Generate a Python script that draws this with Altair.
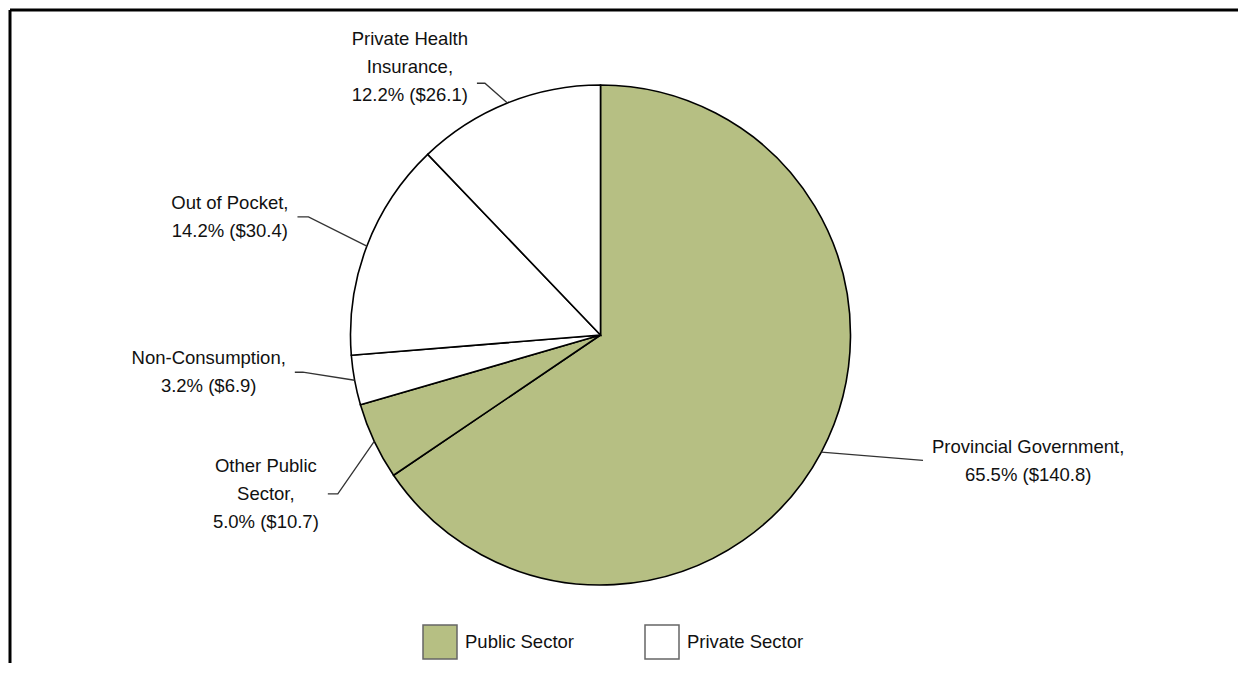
import math
import altair as alt
import pandas as pd

# ---------------- data ----------------
categories = ["Provincial Government", "Other Public Sector", "Non-Consumption",
              "Out of Pocket", "Private Health Insurance"]
sectors = ["Public Sector", "Public Sector", "Private Sector", "Private Sector", "Private Sector"]
percents = [65.5, 5.0, 3.2, 14.2, 12.2]
dollars = [140.8, 10.7, 6.9, 30.4, 26.1]
label_names = [["Provincial Government,"], ["Other Public", "Sector,"], ["Non-Consumption,"],
               ["Out of Pocket,"], ["Private Health", "Insurance,"]]
legend_order = ["Public Sector", "Private Sector"]

# ---------------- layout / style ----------------
W, H = 1230, 655
CX, CY, R = 590.5, 325, 250
FONT = "Liberation Sans"
FS = 18.5
LH = 28
GAP = 9
GREEN = "#B6BF83"
# elbow radius, angle nudge (deg), tick length, text dy
label_layout = {
    "Provincial Government": (346, -6.7, 0, 1),
    "Other Public Sector": (307, -6.0, 10, 0),
    "Non-Consumption": (300, 3.3, 8, 0),
    "Out of Pocket": (315, 1.2, 11, 0),
    "Private Health Insurance": (277, -2.8, 8, -16),
}

AW = {' ': 278, ',': 278, '.': 278, '%': 889, '(': 333, ')': 333, '$': 556, '-': 333,
      'P': 667, 'H': 722, 'I': 278, 'O': 778, 'N': 722, 'C': 722, 'S': 667, 'G': 778}
for ch in "0123456789":
    AW[ch] = 556
AW.update({'a': 556, 'b': 556, 'c': 500, 'd': 556, 'e': 556, 'f': 278, 'h': 556, 'i': 222,
           'k': 500, 'l': 222, 'm': 833, 'n': 556, 'o': 556, 'p': 556, 'r': 333, 's': 500,
           't': 278, 'u': 556, 'v': 500})


def text_width(s):
    return sum(AW.get(c, 556) for c in s) / 1000.0 * FS


# ---------------- derived tables ----------------
total = sum(dollars)
arc_df = pd.DataFrame({"cat": categories, "sector": sectors, "dollars": dollars,
                       "idx": list(range(len(categories)))})

line_rows, text_rows = [], []
cum = 0.0
for i, c in enumerate(categories):
    frac = dollars[i] / total
    mid = (cum + frac / 2) * 2 * math.pi
    cum += frac
    re, nud, tick, dy = label_layout[c]
    a2 = mid + math.radians(nud)
    ex, ey = CX + R * math.sin(mid), CY - R * math.cos(mid)
    bx, by = CX + re * math.sin(a2), CY - re * math.cos(a2)
    side = 1 if math.sin(mid) > 0 else -1
    tx = bx + side * tick
    pts = [(ex, ey), (bx, by), (tx, by)]
    for k, (px, py) in enumerate(pts):
        line_rows.append({"cat": c, "step": k, "px": px, "py": py})
    lines = label_names[i] + [f"{percents[i]:.1f}% (${dollars[i]:.1f})"]
    maxw = max(text_width(s) for s in lines)
    cx_text = tx + side * (GAP + maxw / 2)
    first_y = by + dy - (len(lines) - 1) * LH / 2
    text_rows.append({"cat": c, "label": "\n".join(lines), "px": cx_text, "py": first_y})

line_df = pd.DataFrame(line_rows)
text_df = pd.DataFrame(text_rows)
dummy = pd.DataFrame({"k": [0]})

# ---------------- chart ----------------
arcs = alt.Chart(arc_df).mark_arc(outerRadius=R, stroke="#000", strokeWidth=1.6).encode(
    theta=alt.Theta("dollars:Q", stack=True),
    order=alt.Order("idx:Q", sort="ascending"),
    color=alt.Color("sector:N",
                    scale=alt.Scale(domain=legend_order, range=[GREEN, "#FFFFFF"]),
                    legend=alt.Legend(title=None, orient="none", legendX=412, legendY=614,
                                      direction="horizontal", symbolType="square",
                                      symbolSize=1156, symbolStrokeColor="#666",
                                      symbolStrokeWidth=1.5, symbolOpacity=1,
                                      labelFont=FONT, labelFontSize=FS, labelColor="#111",
                                      labelOffset=7, columnPadding=68, padding=0)),
    x=alt.value(CX), y=alt.value(CY),
)

leaders = alt.Chart(line_df).mark_line(color="#333", strokeWidth=1.3).encode(
    x=alt.X("px:Q", scale=None, axis=None),
    y=alt.Y("py:Q", scale=None, axis=None),
    detail="cat:N",
    order=alt.Order("step:Q"),
)

labels = alt.Chart(text_df).mark_text(font=FONT, fontSize=FS, lineBreak="\n", lineHeight=LH,
                                      align="center", baseline="middle", color="#111").encode(
    x=alt.X("px:Q", scale=None, axis=None),
    y=alt.Y("py:Q", scale=None, axis=None),
    text="label:N",
)

frame_top = alt.Chart(dummy).mark_rule(color="#000", strokeWidth=3).encode(
    x=alt.value(0), x2=alt.value(W), y=alt.value(0))
frame_left = alt.Chart(dummy).mark_rule(color="#000", strokeWidth=3).encode(
    x=alt.value(0), y=alt.value(0), y2=alt.value(H))

chart = alt.layer(arcs, leaders, labels, frame_top, frame_left).properties(
    width=W, height=H, padding=0,
    autosize=alt.AutoSizeParams(type="fit", contains="padding"),
    background="white",
).configure_view(stroke=None)

chart.save("out.html", embed_options={"renderer": "svg", "actions": False})
